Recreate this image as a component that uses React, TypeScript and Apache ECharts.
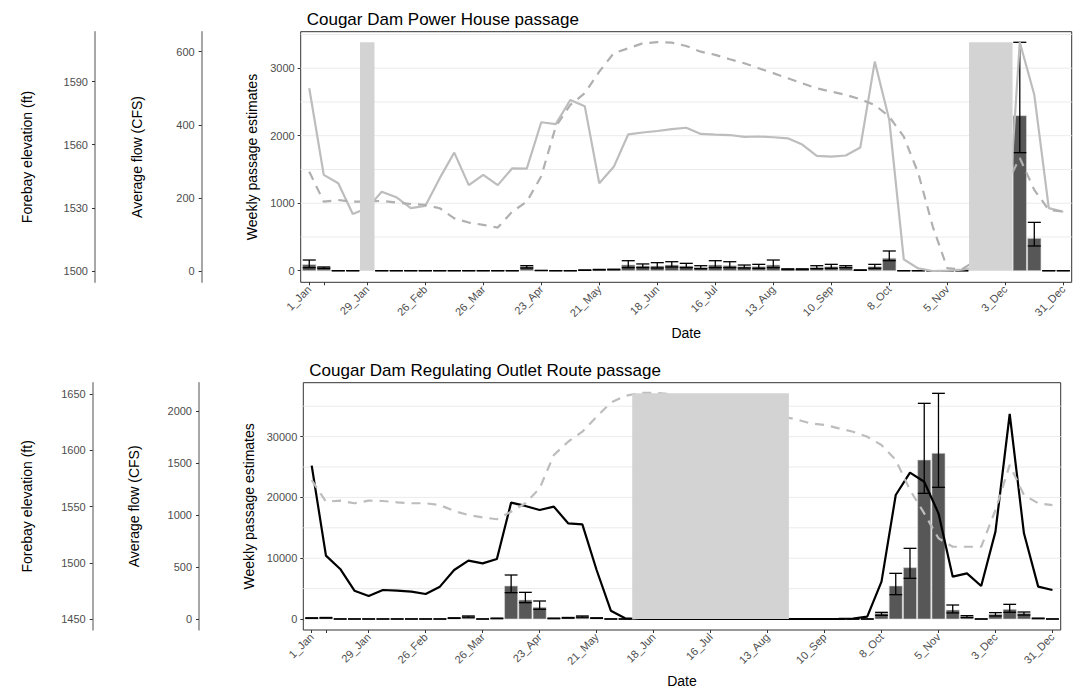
import React, { useEffect, useRef } from "react";
import * as echarts from "echarts";

// ---------- data ----------
const weekCount = 53;
const dateTickWeeks = [0, 4, 8, 12, 16, 20, 24, 28, 32, 36, 40, 44, 48, 52];
const dateTickLabels = ["1_Jan", "29_Jan", "26_Feb", "26_Mar", "23_Apr", "21_May", "18_Jun", "16_Jul", "13_Aug", "10_Sep", "8_Oct", "5_Nov", "3_Dec", "31_Dec"];
const extraTickWeeks = [1];

// Power House panel
const phEst = [90, 45, 0, 0, null, 0, 0, 0, 0, 0, 0, 0, 0, 0, 0, 60, 3, 0, 0, 8, 15, 18, 85, 70, 69, 84, 69, 49, 84, 74, 59, 59, 84, 20, 20, 49, 59, 59, 8, 59, 184, 0, 0, 0, 0, 0, null, null, null, 2297, 479, 0, 0];
const phLower = [45, 35, 0, 0, null, 0, 0, 0, 0, 0, 0, 0, 0, 0, 0, 40, 1, 0, 0, 5, 11, 14, 45, 45, 40, 55, 45, 30, 45, 45, 40, 35, 45, 15, 15, 30, 35, 45, 5, 35, 148, 0, 0, 0, 0, 0, null, null, null, 1749, 366, 0, 0];
const phUpper = [158, 55, 0, 0, null, 0, 0, 0, 0, 0, 0, 0, 0, 0, 0, 75, 5, 0, 0, 11, 19, 22, 148, 100, 119, 133, 109, 74, 148, 133, 84, 94, 158, 28, 28, 74, 94, 74, 12, 94, 292, 0, 0, 0, 0, 0, null, null, null, 3384, 716, 0, 0];
const phFlow = [500, 263, 240, 156, 172, 217, 202, 172, 178, 254, 324, 235, 263, 235, 281, 280, 407, 402, 468, 451, 240, 285, 374, 379, 383, 388, 392, 375, 373, 372, 367, 368, 366, 363, 346, 315, 313, 316, 338, 573, 413, 32, 7, 0, 1, 4, 10, 15, 20, 626, 482, 172, 162];
const phForebay = [1547.2, 1532.9, 1533.7, 1532.9, 1533, 1533.3, 1532.5, 1531.8, 1531.4, 1529.8, 1525, 1523, 1521.9, 1520.6, 1528.2, 1532.9, 1545, 1568.6, 1578.9, 1584.5, 1594.7, 1603.5, 1605.8, 1608.2, 1608.7, 1608.5, 1606.9, 1604.2, 1602.7, 1600.6, 1598.7, 1596.3, 1594, 1591.6, 1589.2, 1586.8, 1585.2, 1583.7, 1581.6, 1578.9, 1573.3, 1563.8, 1546.4, 1521.1, 1501.3, 1500.8, 1505, 1520, 1540, 1553.7, 1538.5, 1529, 1528.2];
const phPassageTicks = [0, 1000, 2000, 3000];
const phPassageGrid = [500, 1000, 1500, 2000, 2500, 3000, 3500];
const phFlowTicks = [0, 200, 400, 600];
const phForebayTicks = [1500, 1530, 1560, 1590];

// Regulating Outlet panel
const roEst = [150, 200, 0, 0, 0, 0, 0, 0, 0, 0, 150, 400, 0, 100, 5428, 3125, 1918, 100, 200, 400, 150, 0, 0, null, null, null, null, null, null, null, null, null, null, null, 0, 0, 0, 0, 0, 0, 932, 5428, 8443, 26151, 27247, 1480, 384, 0, 768, 1590, 932, 100, 0];
const roLower = [100, 150, 0, 0, 0, 0, 0, 0, 0, 0, 100, 300, 0, 50, 4330, 2686, 1590, 50, 150, 300, 100, 0, 0, null, null, null, null, null, null, null, null, null, null, null, 0, 0, 0, 0, 0, 0, 600, 4000, 6689, 20669, 21656, 1000, 250, 0, 500, 1100, 650, 50, 0];
const roUpper = [200, 250, 0, 0, 0, 0, 0, 0, 0, 0, 200, 500, 0, 150, 7237, 4386, 2960, 150, 250, 500, 200, 0, 0, null, null, null, null, null, null, null, null, null, null, null, 0, 0, 0, 0, 0, 0, 1096, 7511, 11623, 35471, 37117, 2302, 550, 0, 1050, 2412, 1150, 150, 0];
const roFlow = [1474, 609, 481, 272, 221, 279, 272, 263, 240, 311, 471, 561, 535, 577, 1119, 1087, 1048, 1080, 920, 910, 471, 80, 7, 0, 0, 0, 0, 0, 0, 0, 0, 0, 0, 0, 0, 0, 0, 2, 5, 22, 359, 1192, 1407, 1320, 1016, 407, 439, 317, 840, 1971, 824, 311, 279];
const roForebay = [1573.6, 1554.4, 1555.3, 1553, 1555.3, 1555, 1553.8, 1553, 1553, 1551.4, 1546.1, 1542.6, 1540.5, 1538.8, 1545.5, 1553, 1566.3, 1595.8, 1607.6, 1616.5, 1629.8, 1642.3, 1648.2, 1651, 1651, 1650, 1648, 1646, 1643, 1640, 1637, 1634, 1632, 1630, 1627.5, 1624, 1622.6, 1619.5, 1616.5, 1612, 1604.7, 1591.4, 1564.8, 1544, 1521.9, 1514.4, 1514.4, 1514.4, 1547, 1587, 1560.3, 1553, 1551.4];
const roPassageTicks = [0, 10000, 20000, 30000];
const roPassageGrid = [5000, 10000, 15000, 20000, 25000, 30000, 35000];
const roFlowTicks = [0, 500, 1000, 1500, 2000];
const roForebayTicks = [1450, 1500, 1550, 1600, 1650];

const FONT = "'Liberation Sans', Arial, Helvetica, sans-serif";

type Panel = {
  title: string;
  titleTop: number;
  grid: { left: number; top: number; width: number; height: number };
  est: (number | null)[];
  lower: (number | null)[];
  upper: (number | null)[];
  flow: number[];
  forebay: number[];
  passage: { min: number; max: number; ticks: number[]; grid: number[]; nameGap: number };
  flowAxis: { min: number; max: number; ticks: number[]; offset: number; nameGap: number };
  forebayAxis: { min: number; max: number; ticks: number[]; offset: number; nameGap: number };
  flowColor: string;
  forebayColor: string;
};

const panels: Panel[] = [
  {
    title: "Cougar Dam Power House passage",
    titleTop: 6,
    grid: { left: 300.7, top: 31.7, width: 771, height: 250.6 },
    est: phEst, lower: phLower, upper: phUpper, flow: phFlow, forebay: phForebay,
    passage: { min: -172, max: 3541, ticks: phPassageTicks, grid: phPassageGrid, nameGap: 32 },
    flowAxis: { min: -30.9, max: 654.7, ticks: phFlowTicks, offset: 99, nameGap: 58 },
    forebayAxis: { min: 1494.6, max: 1613.7, ticks: phForebayTicks, offset: 205.7, nameGap: 61 },
    flowColor: "#bdbdbd",
    forebayColor: "#b0b0b0",
  },
  {
    title: "Cougar Dam Regulating Outlet Route passage",
    titleTop: 357,
    grid: { left: 303.3, top: 382.7, width: 757.4, height: 247.3 },
    est: roEst, lower: roLower, upper: roUpper, flow: roFlow, forebay: roForebay,
    passage: { min: -1809, max: 38865, ticks: roPassageTicks, grid: roPassageGrid, nameGap: 38 },
    flowAxis: { min: -105.8, max: 2272, ticks: roFlowTicks, offset: 104.3, nameGap: 58 },
    forebayAxis: { min: 1440.5, max: 1660, ticks: roForebayTicks, offset: 210.6, nameGap: 59 },
    flowColor: "#000000",
    forebayColor: "#bdbdbd",
  },
];

function naRuns(est: (number | null)[], upper: (number | null)[]) {
  const top = Math.max(...(upper.filter((v) => v !== null) as number[]));
  const runs: number[][] = [];
  let start = -1;
  for (let i = 0; i <= est.length; i++) {
    const isNa = i < est.length && est[i] === null;
    if (isNa && start < 0) start = i;
    if (!isNa && start >= 0) {
      runs.push([start - 0.5, i - 1 + 0.5, top]);
      start = -1;
    }
  }
  return runs;
}

const plain = (v: number) => String(v);

function buildOption() {
  const grids: any[] = [];
  const xAxes: any[] = [];
  const yAxes: any[] = [];
  const series: any[] = [];
  const titles: any[] = [];
  const axisLabelStyle = { fontSize: 11, color: "#4d4d4d", fontFamily: FONT };
  const nameStyle = { fontSize: 14, color: "#000", fontFamily: FONT };

  panels.forEach((p, i) => {
    titles.push({
      text: p.title,
      left: p.grid.left + 1,
      top: p.titleTop,
      textStyle: { fontSize: 17, fontWeight: "normal", color: "#000", fontFamily: FONT },
    });
    grids.push({
      left: p.grid.left, top: p.grid.top, width: p.grid.width, height: p.grid.height,
      show: true, borderColor: "#333", borderWidth: 1, backgroundColor: "transparent",
      containLabel: false,
    });
    xAxes.push({
      gridIndex: i, type: "value", min: -0.59, max: 52.58,
      axisLine: { show: false, onZero: false },
      axisTick: { show: true, length: 3, customValues: [...dateTickWeeks, ...extraTickWeeks], lineStyle: { color: "#333" } },
      axisLabel: {
        show: true, customValues: dateTickWeeks, rotate: 45, margin: 5, ...axisLabelStyle,
        formatter: (v: number) => { const k = dateTickWeeks.indexOf(v); return k >= 0 ? dateTickLabels[k] : ""; },
      },
      splitLine: { show: false },
      name: "Date", nameLocation: "middle", nameGap: 44, nameTextStyle: nameStyle,
    });
    const base = i * 3;
    yAxes.push({
      gridIndex: i, type: "value", position: "left", offset: 0,
      min: p.passage.min, max: p.passage.max,
      axisLine: { show: false, onZero: false },
      axisTick: { show: true, length: 3, customValues: p.passage.ticks, lineStyle: { color: "#333" } },
      axisLabel: { show: true, customValues: p.passage.ticks, margin: 6, formatter: plain, ...axisLabelStyle },
      splitLine: { show: false },
      name: "Weekly passage estimates", nameLocation: "middle", nameGap: p.passage.nameGap, nameTextStyle: nameStyle,
    });
    yAxes.push({
      gridIndex: i, type: "value", position: "left", offset: p.flowAxis.offset,
      min: p.flowAxis.min, max: p.flowAxis.max,
      axisLine: { show: true, onZero: false, lineStyle: { color: "#8a8a8a", width: 1.5 } },
      axisTick: { show: true, length: 3, customValues: p.flowAxis.ticks, lineStyle: { color: "#333" } },
      axisLabel: { show: true, customValues: p.flowAxis.ticks, margin: 7, formatter: plain, ...axisLabelStyle },
      splitLine: { show: false },
      name: "Average flow (CFS)", nameLocation: "middle", nameGap: p.flowAxis.nameGap, nameTextStyle: nameStyle,
    });
    yAxes.push({
      gridIndex: i, type: "value", position: "left", offset: p.forebayAxis.offset,
      min: p.forebayAxis.min, max: p.forebayAxis.max,
      axisLine: { show: true, onZero: false, lineStyle: { color: "#8a8a8a", width: 1.5 } },
      axisTick: { show: true, length: 3, customValues: p.forebayAxis.ticks, lineStyle: { color: "#333" } },
      axisLabel: { show: true, customValues: p.forebayAxis.ticks, margin: 7, formatter: plain, ...axisLabelStyle },
      splitLine: { show: false },
      name: "Forebay elevation (ft)", nameLocation: "middle", nameGap: p.forebayAxis.nameGap, nameTextStyle: nameStyle,
    });

    // grid lines
    series.push({
      type: "custom", xAxisIndex: i, yAxisIndex: base, z: 1, silent: true,
      data: p.passage.grid.map((v) => [0, v]),
      renderItem: (params: any, api: any) => {
        const cs = params.coordSys;
        const y = api.coord([0, api.value(1)])[1];
        return { type: "line", shape: { x1: cs.x, y1: y, x2: cs.x + cs.width, y2: y }, style: { stroke: "#ebebeb", lineWidth: 1 } };
      },
    });
    // bars
    const barData: number[][] = [];
    const errData: number[][] = [];
    for (let w = 0; w < weekCount; w++) {
      const e = p.est[w];
      if (e === null) continue;
      barData.push([w, e]);
      errData.push([w, p.lower[w] as number, p.upper[w] as number]);
    }
    series.push({
      type: "custom", xAxisIndex: i, yAxisIndex: base, z: 2, silent: true,
      data: barData,
      renderItem: (params: any, api: any) => {
        const w = api.value(0);
        const a = api.coord([w - 0.46, 0]);
        const b = api.coord([w + 0.46, api.value(1)]);
        return { type: "rect", shape: { x: a[0], y: b[1], width: b[0] - a[0], height: a[1] - b[1] }, style: { fill: "#575757", stroke: "#d8d8d8", lineWidth: 0.6 } };
      },
    });
    // error bars
    series.push({
      type: "custom", xAxisIndex: i, yAxisIndex: base, z: 3, silent: true,
      data: errData,
      renderItem: (params: any, api: any) => {
        const w = api.value(0);
        const lo = api.coord([w, api.value(1)]);
        const hi = api.coord([w, api.value(2)]);
        const l = api.coord([w - 0.45, 0])[0];
        const r = api.coord([w + 0.45, 0])[0];
        const st = { stroke: "#000", lineWidth: 1.3 };
        return {
          type: "group",
          children: [
            { type: "line", shape: { x1: lo[0], y1: lo[1], x2: hi[0], y2: hi[1] }, style: st },
            { type: "line", shape: { x1: l, y1: lo[1], x2: r, y2: lo[1] }, style: st },
            { type: "line", shape: { x1: l, y1: hi[1], x2: r, y2: hi[1] }, style: st },
          ],
        };
      },
    });
    // flow line
    series.push({
      type: "line", xAxisIndex: i, yAxisIndex: base + 1, z: 4, silent: true,
      showSymbol: false, symbol: "none",
      data: p.flow.map((v, w) => [w, v]),
      lineStyle: { color: p.flowColor, width: 2.2, type: "solid" },
    });
    // forebay line
    series.push({
      type: "line", xAxisIndex: i, yAxisIndex: base + 2, z: 4, silent: true,
      showSymbol: false, symbol: "none",
      data: p.forebay.map((v, w) => [w, v]),
      lineStyle: { color: p.forebayColor, width: 2.2, type: [9, 7] },
    });
    // no-data rectangles
    series.push({
      type: "custom", xAxisIndex: i, yAxisIndex: base, z: 5, silent: true,
      data: naRuns(p.est, p.upper),
      renderItem: (params: any, api: any) => {
        const a = api.coord([api.value(0), 0]);
        const b = api.coord([api.value(1), api.value(2)]);
        return { type: "rect", shape: { x: a[0], y: b[1], width: b[0] - a[0], height: a[1] - b[1] }, style: { fill: "#d3d3d3" } };
      },
    });
  });

  return {
    animation: false,
    backgroundColor: "#fff",
    textStyle: { fontFamily: FONT },
    title: titles,
    grid: grids,
    xAxis: xAxes,
    yAxis: yAxes,
    series,
  };
}

export default function App() {
  const ref = useRef<HTMLDivElement>(null);
  useEffect(() => {
    if (!ref.current) return;
    const chart = echarts.init(ref.current, undefined, { renderer: "svg" });
    chart.setOption(buildOption() as any);
    return () => chart.dispose();
  }, []);
  return <div ref={ref} style={{ position: "absolute", left: 0, top: 0, width: 1081, height: 691 }} />;
}
